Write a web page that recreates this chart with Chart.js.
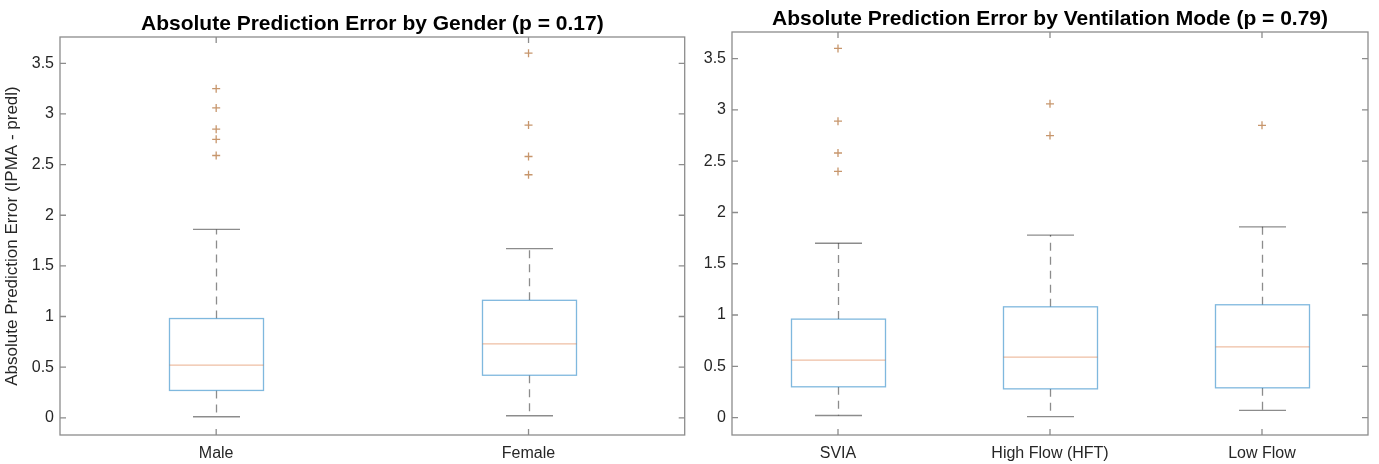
<!DOCTYPE html>
<html>
<head>
<meta charset="utf-8">
<script src="https://cdn.jsdelivr.net/npm/chart.js@4.4.1/dist/chart.umd.min.js"></script>
<style>
  html, body { margin:0; padding:0; background:#fff; }
  #wrap { position:relative; width:1379px; height:464px; }
  .panel { position:absolute; top:0; height:464px; }
  #p-gender { left:0; width:690px; }
  #p-vent { left:690px; width:689px; }
</style>
</head>
<body>
<div id="wrap">
  <div class="panel" id="p-gender"><canvas id="ch-gender"></canvas></div>
  <div class="panel" id="p-vent"><canvas id="ch-vent"></canvas></div>
</div>
<script>
// ---------------- data ----------------
const yMin = -0.17, yMax = 3.76;
const yTicks = [0, 0.5, 1, 1.5, 2, 2.5, 3, 3.5];

const genderTitle = 'Absolute Prediction Error by Gender (p = 0.17)';
const genderCats = ['Male', 'Female'];
const genderLow  = [0.01, 0.02];
const genderQ1   = [0.27, 0.42];
const genderMed  = [0.52, 0.73];
const genderQ3   = [0.98, 1.16];
const genderHigh = [1.86, 1.67];
const genderOut  = [[3.25, 3.06, 2.85, 2.75, 2.59], [3.60, 2.89, 2.58, 2.40]];

const ventTitle = 'Absolute Prediction Error by Ventilation Mode (p = 0.79)';
const ventCats = ['SVIA', 'High Flow (HFT)', 'Low Flow'];
const ventLow  = [0.02, 0.01, 0.07];
const ventQ1   = [0.30, 0.28, 0.29];
const ventMed  = [0.56, 0.59, 0.69];
const ventQ3   = [0.96, 1.08, 1.10];
const ventHigh = [1.70, 1.78, 1.86];
const ventOut  = [[3.60, 2.89, 2.58, 2.40], [3.06, 2.75], [2.85]];

const yLabel = 'Absolute Prediction Error (IPMA - predl)';

// ---------------- styling ----------------
const FONT = '"Liberation Sans", Arial, Helvetica, sans-serif';
Chart.defaults.font.family = FONT;
const AXIS_GRAY = '#8c8c8c';
const BOX_BLUE = 'rgba(0,114,189,0.5)';
const MED_ORANGE = 'rgba(217,110,50,0.45)';
const OUT_ORANGE = 'rgba(175,105,45,0.7)';
const WHISK = 'rgba(0,0,0,0.45)';

// draws matlab-style boxes under the outlier points, frame + title on top
const boxPlugin = {
  id: 'boxes',
  beforeDatasetsDraw(chart, args, opts) {
    const { ctx, scales: { x, y } } = chart;
    const half = opts.boxWidth / 2, capHalf = opts.boxWidth / 4;
    opts.stats.forEach((s, i) => {
      const cx = Math.round(x.getPixelForValue(i + 1)) + 0.5;
      const pLo = y.getPixelForValue(s.low), pQ1 = y.getPixelForValue(s.q1);
      const pMed = y.getPixelForValue(s.med), pQ3 = y.getPixelForValue(s.q3);
      const pHi = y.getPixelForValue(s.high);
      ctx.save();
      ctx.lineWidth = 1.3;
      ctx.strokeStyle = WHISK;
      ctx.setLineDash([8, 6]);
      ctx.beginPath();
      ctx.moveTo(cx, pQ3); ctx.lineTo(cx, pHi);
      ctx.moveTo(cx, pQ1); ctx.lineTo(cx, pLo);
      ctx.stroke();
      ctx.setLineDash([]);
      ctx.beginPath();
      ctx.moveTo(cx - capHalf, pHi); ctx.lineTo(cx + capHalf, pHi);
      ctx.moveTo(cx - capHalf, pLo); ctx.lineTo(cx + capHalf, pLo);
      ctx.stroke();
      ctx.fillStyle = '#fff';
      ctx.fillRect(cx - half, pQ3, half * 2, pQ1 - pQ3);
      ctx.strokeStyle = BOX_BLUE;
      ctx.strokeRect(cx - half, pQ3, half * 2, pQ1 - pQ3);
      ctx.strokeStyle = MED_ORANGE;
      ctx.beginPath();
      ctx.moveTo(cx - half, pMed); ctx.lineTo(cx + half, pMed);
      ctx.stroke();
      ctx.restore();
    });
  },
  afterDraw(chart, args, opts) {
    const { ctx, chartArea: a, scales: { x, y } } = chart;
    const tl = 6;
    ctx.save();
    ctx.strokeStyle = AXIS_GRAY;
    ctx.lineWidth = 1.3;
    ctx.strokeRect(a.left, a.top, a.right - a.left, a.bottom - a.top);
    ctx.beginPath();
    y.ticks.forEach(t => {
      const py = y.getPixelForValue(t.value);
      ctx.moveTo(a.left, py); ctx.lineTo(a.left + tl, py);
      ctx.moveTo(a.right, py); ctx.lineTo(a.right - tl, py);
    });
    x.ticks.forEach(t => {
      const px = x.getPixelForValue(t.value);
      ctx.moveTo(px, a.bottom); ctx.lineTo(px, a.bottom - tl);
      ctx.moveTo(px, a.top); ctx.lineTo(px, a.top + tl);
    });
    ctx.stroke();
    ctx.fillStyle = '#000';
    ctx.font = 'bold 21px ' + FONT;
    ctx.textAlign = 'center';
    ctx.textBaseline = 'middle';
    ctx.fillText(opts.title, (a.left + a.right) / 2, a.top - 13);
    ctx.restore();
  }
};

function statsOf(low, q1, med, q3, high) {
  return low.map((v, i) => ({ low: v, q1: q1[i], med: med[i], q3: q3[i], high: high[i] }));
}

function makeChart(id, cats, stats, outliers, title, lay) {
  const pts = outliers.flatMap((arr, i) => arr.map(v => ({ x: i + 1, y: v })));
  return new Chart(document.getElementById(id), {
    type: 'scatter',
    data: {
      datasets: [{ data: pts, pointStyle: 'cross', pointRadius: 4, pointHoverRadius: 4,
                   borderColor: OUT_ORANGE, backgroundColor: OUT_ORANGE, borderWidth: 1.3 }]
    },
    options: {
      responsive: true, maintainAspectRatio: false, animation: false,
      layout: { padding: { top: lay.top, right: lay.right, left: 0, bottom: 0 } },
      plugins: {
        legend: { display: false }, tooltip: { enabled: false },
        boxes: { stats, title, boxWidth: 94 }
      },
      scales: {
        x: {
          type: 'linear', min: 0.5, max: cats.length + 0.5,
          grid: { display: false, drawTicks: false }, border: { display: false },
          afterBuildTicks: s => { s.ticks = cats.map((c, i) => ({ value: i + 1 })); },
          ticks: { callback: (v, i) => cats[i], autoSkip: false, maxRotation: 0,
                   padding: 9, color: '#262626', font: { size: 16 } },
          afterFit: s => { s.height = 29; }
        },
        y: {
          min: yMin, max: yMax,
          grid: { display: false, drawTicks: false }, border: { display: false },
          afterBuildTicks: s => { s.ticks = yTicks.map(v => ({ value: v })); },
          ticks: { callback: v => String(v), padding: 6, color: '#262626', font: { size: 16 } },
          title: { display: lay.showLabel, text: yLabel, color: '#262626',
                   font: { size: 17 }, padding: { top: 2, bottom: 0 } },
          afterFit: s => { s.width = lay.left; }
        }
      }
    },
    plugins: [boxPlugin]
  });
}

makeChart('ch-gender', genderCats,
  statsOf(genderLow, genderQ1, genderMed, genderQ3, genderHigh),
  genderOut, genderTitle, { top: 37, right: 4, left: 60, showLabel: true });

makeChart('ch-vent', ventCats,
  statsOf(ventLow, ventQ1, ventMed, ventQ3, ventHigh),
  ventOut, ventTitle, { top: 32, right: 11, left: 42, showLabel: false });
</script>
</body>
</html>
